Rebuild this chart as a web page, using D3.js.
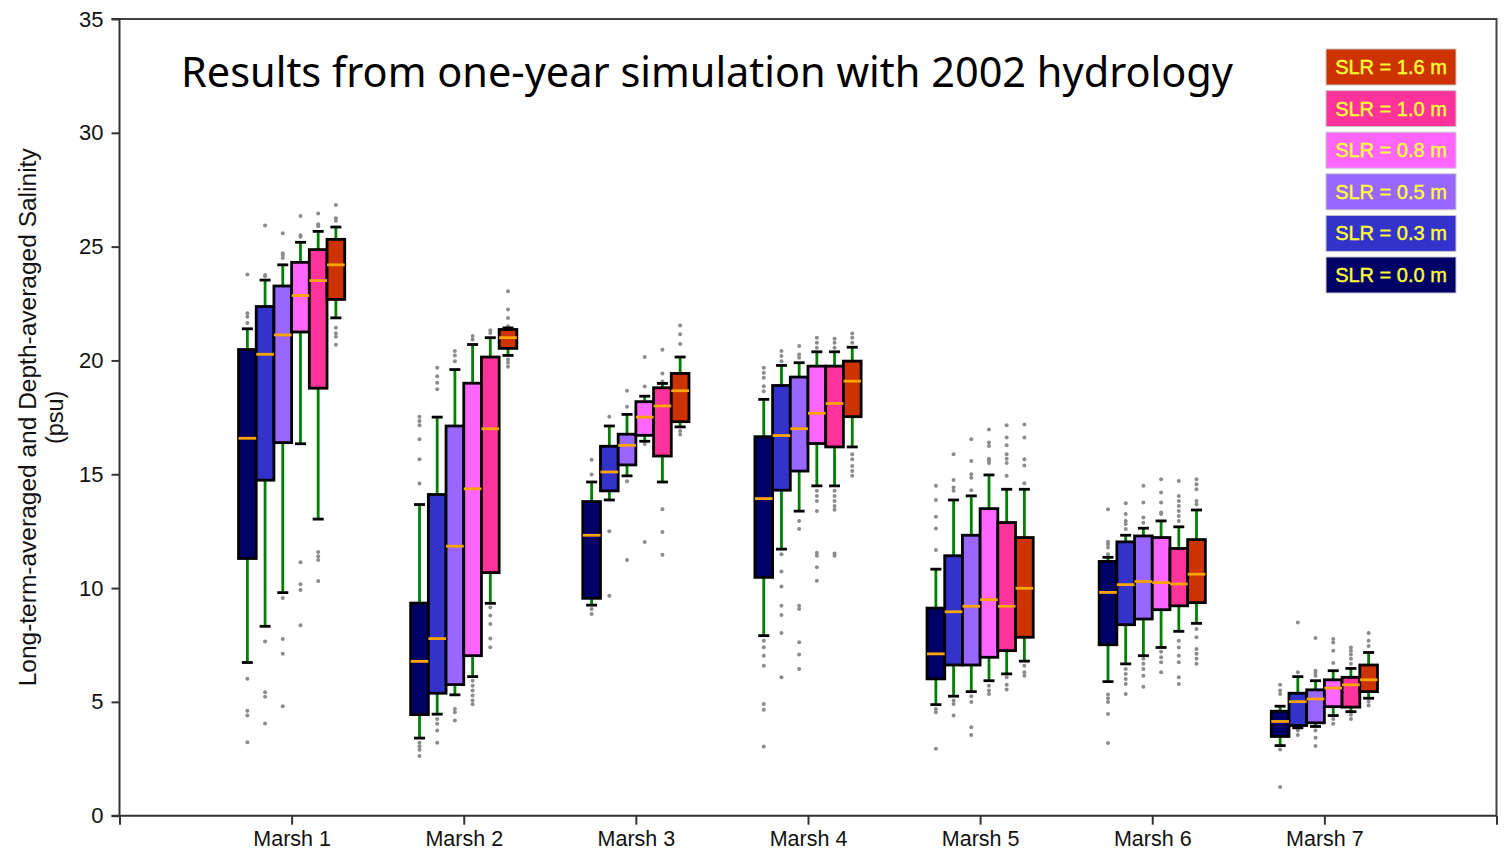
<!DOCTYPE html>
<html>
<head>
<meta charset="utf-8">
<script src="https://cdn.jsdelivr.net/npm/d3@7"></script>
<style>
  html, body { margin: 0; padding: 0; background: #fff; }
  svg { display: block; }
  .axis text { font-family: "Liberation Sans", Arial, sans-serif; fill: #111; }
</style>
</head>
<body>
<div id="chart"></div>
<script>
// categories and series
const marshes = ["Marsh 1", "Marsh 2", "Marsh 3", "Marsh 4", "Marsh 5", "Marsh 6", "Marsh 7"];
const scenarios = ["SLR = 0.0 m", "SLR = 0.3 m", "SLR = 0.5 m", "SLR = 0.8 m", "SLR = 1.0 m", "SLR = 1.6 m"];
const yTicks = [0, 5, 10, 15, 20, 25, 30, 35];

// box stats, one row per scenario, one value per marsh (psu)
const whiskerLow = [
  [6.73, 3.41, 9.25, 7.91, 4.88, 5.89, 3.08],
  [8.32, 4.46, 13.87, 11.71, 5.25, 6.67, 3.86],
  [9.8, 5.31, 14.93, 13.38, 5.45, 7.03, 3.92],
  [16.34, 6.11, 16.45, 14.49, 5.93, 7.39, 4.4],
  [13.03, 9.33, 14.66, 14.49, 6.23, 8.1, 4.57],
  [21.87, 20.22, 17.08, 16.2, 6.79, 8.45, 5.16]
];
const quartile1 = [
  [11.3, 4.44, 9.55, 10.47, 6.01, 7.51, 3.48],
  [14.74, 5.38, 14.27, 14.3, 6.62, 8.39, 3.96],
  [16.39, 5.76, 15.41, 15.14, 6.62, 8.64, 4.08],
  [21.25, 7.03, 16.71, 16.35, 6.96, 9.05, 4.79],
  [18.78, 10.68, 15.8, 16.2, 7.25, 9.22, 4.77],
  [22.68, 20.53, 17.31, 17.53, 7.84, 9.36, 5.45]
];
const medians = [
  [16.58, 6.78, 12.32, 13.93, 7.11, 9.81, 4.14],
  [20.27, 7.78, 15.1, 16.7, 8.96, 10.15, 5.01],
  [21.12, 11.84, 16.27, 17.0, 9.2, 10.29, 5.13],
  [22.85, 14.36, 17.51, 17.68, 9.49, 10.24, 5.61],
  [23.51, 17.0, 18.0, 18.11, 9.2, 10.18, 5.75],
  [24.2, 21.0, 18.67, 19.09, 9.99, 10.61, 5.97]
];
const quartile3 = [
  [20.48, 9.34, 13.8, 16.65, 9.12, 11.17, 4.59],
  [22.37, 14.11, 16.23, 18.9, 11.42, 12.03, 5.38],
  [23.27, 17.12, 16.76, 19.27, 12.32, 12.29, 5.53],
  [24.31, 19.0, 18.19, 19.75, 13.49, 12.22, 5.97],
  [24.87, 20.15, 18.8, 19.75, 12.88, 11.74, 6.08],
  [25.32, 21.36, 19.43, 19.97, 12.22, 12.13, 6.62]
];
const whiskerHigh = [
  [21.39, 13.67, 14.66, 18.29, 10.83, 11.35, 4.81],
  [23.53, 17.51, 17.12, 19.78, 13.87, 12.32, 6.11],
  [24.2, 19.6, 17.63, 19.9, 14.05, 12.63, 5.93],
  [25.19, 20.7, 18.43, 20.38, 14.97, 12.95, 6.37],
  [25.67, 21.0, 18.99, 20.38, 14.34, 12.69, 6.47],
  [25.86, 21.43, 20.15, 20.58, 14.34, 13.43, 7.17]
];
const outliers = [
  [
    [21.65, 21.92, 22.07, 23.78, 6.02, 4.61, 4.40, 3.23],
    [14.59, 15.66, 16.54, 17.15, 17.34, 17.53, 3.2, 3.05, 2.9, 2.62],
    [14.99, 15.64, 9.08, 8.86],
    [18.65, 18.87, 19.24, 19.46, 19.68, 7.69, 7.4, 7.03, 6.59, 4.91, 4.66, 3.04],
    [11.67, 12.62, 13.13, 13.87, 14.49, 4.69, 4.55, 2.94],
    [11.49, 11.78, 11.93, 12.03, 13.46, 5.32, 5.16, 4.99, 4.47, 3.19],
    [5.35, 5.5, 5.75, 2.91, 1.26]
  ],
  [
    [23.7, 23.75, 25.93, 7.65, 5.42, 5.23, 4.05],
    [19.68, 19.31, 19.02, 18.73, 4.25, 4.04, 3.74, 3.2],
    [17.53, 12.5, 9.66],
    [19.97, 20.19, 20.41, 11.49, 10.73, 10.07, 9.22, 8.82, 8.03, 6.08],
    [14.27, 14.42, 14.75, 15.88, 5.06, 4.91, 4.4],
    [12.59, 12.81, 12.95, 13.25, 13.73, 6.45, 6.23, 6.01, 5.79, 5.35],
    [6.3, 8.49, 3.74, 3.55]
  ],
  [
    [24.5, 24.63, 24.71, 25.59, 9.56, 7.76, 7.12, 4.81],
    [19.97, 20.22, 20.41, 4.69, 4.55, 4.18],
    [17.97, 18.67, 14.69, 11.23],
    [20.12, 20.26, 20.63, 12.95, 12.59, 9.22, 9.08, 7.62, 7.08, 6.45],
    [14.3, 14.85, 15.0, 15.58, 16.54, 5.25, 4.99, 3.89, 3.55],
    [12.87, 13.1, 13.76, 14.49, 6.89, 6.67, 6.45, 6.15, 5.67],
    [6.15, 6.27, 6.37, 7.81, 3.74, 3.42, 3.06]
  ],
  [
    [25.43, 25.5, 26.35, 11.13, 10.17, 9.91, 8.37],
    [20.92, 21.07, 5.93, 5.71, 5.5, 5.28, 5.06, 4.9],
    [18.85, 20.15, 16.33, 12.02],
    [20.56, 20.78, 21.0, 14.27, 14.05, 13.83, 13.39, 11.55, 11.42, 10.91, 10.32],
    [15.5, 15.6, 15.68, 16.24, 16.39, 16.97, 5.71, 5.5, 5.35],
    [13.25, 13.32, 13.76, 14.2, 14.78, 7.2, 6.96, 6.74, 6.3],
    [6.71, 7.25, 7.61, 7.76, 4.25, 4.04]
  ],
  [
    [25.9, 25.98, 26.46, 11.59, 11.4, 11.23, 10.31],
    [21.21, 21.33, 9.15, 8.79, 8.42, 7.79, 7.4],
    [19.08, 19.43, 20.47, 13.46, 12.46, 11.46],
    [20.56, 20.78, 20.95, 14.27, 14.05, 13.83, 13.61, 13.44, 11.52, 11.42],
    [14.93, 15.5, 15.68, 15.88, 16.27, 16.61, 17.15, 6.08, 5.75, 5.54],
    [12.95, 13.17, 13.39, 13.61, 13.83, 14.05, 14.7, 7.69, 7.39, 7.03, 6.74, 6.08, 5.79],
    [6.67, 6.89, 7.08, 7.25, 7.39, 4.43, 4.25]
  ],
  [
    [26.14, 26.25, 26.83, 21.44, 21.2, 21.04, 20.69],
    [21.5, 21.87, 22.24, 23.04, 20.04, 19.9, 19.72],
    [20.72, 21.15, 21.54, 16.9, 16.75],
    [20.78, 21.0, 21.18, 15.88, 15.66, 15.36, 15.14, 14.93],
    [14.6, 15.39, 15.66, 16.61, 17.19, 6.59, 6.3, 6.15],
    [13.68, 13.82, 14.34, 14.56, 14.78, 8.2, 7.84, 7.32, 7.11, 6.89, 6.67],
    [7.46, 7.69, 8.03, 5.01, 4.84]
  ]
];

const colors = ["#000066", "#3333cc", "#9966ff", "#ff66ff", "#ff3399", "#cc3300"];

const width = 1508, height = 852;
const svg = d3.select("#chart").append("svg")
  .attr("width", width)
  .attr("height", height);

const x = d3.scaleLinear().domain([0, 8]).range([119.5, 1496.5]);
const y = d3.scaleLinear().domain([0, 35]).range([815.7, 19]);

const pitch = 17.7;   // horizontal step between boxes of one marsh
const capHalf = 5.5;

// frame (top & right)
svg.append("path")
  .attr("d", `M${x(0)},${y(35)}H${x(8)}V${y(0)}`)
  .attr("fill", "none")
  .attr("stroke", "#444")
  .attr("stroke-width", 2);

// axes
const yAxis = svg.append("g")
  .attr("class", "axis")
  .attr("transform", `translate(${x(0)},0)`)
  .call(d3.axisLeft(y).tickValues(yTicks).tickSize(8).tickPadding(8));
yAxis.selectAll("text").attr("font-size", 22);

const xAxis = svg.append("g")
  .attr("class", "axis")
  .attr("transform", `translate(0,${y(0)})`)
  .call(d3.axisBottom(x).tickValues(d3.range(0, 9)).tickSize(9).tickPadding(6)
    .tickFormat(d => (d >= 1 && d <= 7) ? marshes[d - 1] : ""));
xAxis.selectAll("text").attr("font-size", 21.5);
svg.selectAll(".axis path, .axis line").attr("stroke", "#333").attr("stroke-width", 2);
svg.selectAll(".axis .domain").attr("d", function() {
  return d3.select(this.parentNode).attr("transform").includes(",0)")
    ? `M-8,${y(35)}H0V${y(0)}` : `M${x(0) - 8},0H${x(8)}`;
});

// boxes
const plot = svg.append("g");
scenarios.forEach((s, si) => {
  marshes.forEach((m, mi) => {
    const cx = x(mi + 1) + (si - 2.5) * pitch;
    const g = plot.append("g");
    // whiskers
    g.append("line")
      .attr("x1", cx).attr("x2", cx)
      .attr("y1", y(quartile3[si][mi])).attr("y2", y(whiskerHigh[si][mi]))
      .attr("stroke", "#008000").attr("stroke-width", 2.8);
    g.append("line")
      .attr("x1", cx).attr("x2", cx)
      .attr("y1", y(quartile1[si][mi])).attr("y2", y(whiskerLow[si][mi]))
      .attr("stroke", "#008000").attr("stroke-width", 2.8);
    // outliers
    g.selectAll("circle")
      .data(outliers[si][mi])
      .join("circle")
      .attr("cx", cx)
      .attr("cy", d => y(d))
      .attr("r", 2)
      .attr("fill", "#8c8c8c");
    // caps
    [whiskerLow[si][mi], whiskerHigh[si][mi]].forEach(v => {
      g.append("line")
        .attr("x1", cx - capHalf).attr("x2", cx + capHalf)
        .attr("y1", y(v)).attr("y2", y(v))
        .attr("stroke", "#000").attr("stroke-width", 2.8);
    });
  });
});
scenarios.forEach((s, si) => {
  marshes.forEach((m, mi) => {
    const cx = x(mi + 1) + (si - 2.5) * pitch;
    plot.append("rect")
      .attr("x", cx - pitch / 2)
      .attr("width", pitch)
      .attr("y", y(quartile3[si][mi]))
      .attr("height", y(quartile1[si][mi]) - y(quartile3[si][mi]))
      .attr("fill", colors[si])
      .attr("stroke", "#000")
      .attr("stroke-width", 2.8);
  });
});
scenarios.forEach((s, si) => {
  marshes.forEach((m, mi) => {
    const cx = x(mi + 1) + (si - 2.5) * pitch;
    plot.append("line")
      .attr("x1", cx - pitch / 2).attr("x2", cx + pitch / 2)
      .attr("y1", y(medians[si][mi])).attr("y2", y(medians[si][mi]))
      .attr("stroke", "#ffa500").attr("stroke-width", 2.8);
  });
});

// title
svg.append("text")
  .attr("x", 181)
  .attr("y", 87)
  .attr("font-family", "'Noto Sans', 'Open Sans', sans-serif")
  .attr("font-size", 42)
  .attr("fill", "#000")
  .attr("textLength", 1052)
  .attr("lengthAdjust", "spacingAndGlyphs")
  .text("Results from one-year simulation with 2002 hydrology");

// y label
const yl = svg.append("g")
  .attr("transform", `translate(0,${(y(0) + y(35)) / 2}) rotate(-90)`)
  .attr("font-family", "'Liberation Sans', Arial, sans-serif")
  .attr("font-size", 23.5)
  .attr("text-anchor", "middle")
  .attr("fill", "#111");
yl.append("text").attr("x", 0).attr("y", 36)
  .attr("textLength", 538).attr("lengthAdjust", "spacingAndGlyphs")
  .text("Long-term-averaged and Depth-averaged Salinity");
yl.append("text").attr("x", 0).attr("y", 63).text("(psu)");

// legend (top = highest SLR)
const legend = svg.append("g").attr("transform", "translate(1326,49)");
scenarios.slice().reverse().forEach((s, i) => {
  const si = scenarios.length - 1 - i;
  const row = legend.append("g").attr("transform", `translate(0,${i * 41.6})`);
  row.append("rect")
    .attr("width", 130).attr("height", 36)
    .attr("fill", colors[si])
    .attr("stroke", "#c8c8c8").attr("stroke-width", 1);
  row.append("text")
    .attr("x", 65).attr("y", 25)
    .attr("text-anchor", "middle")
    .attr("font-family", "'Liberation Sans', Arial, sans-serif")
    .attr("font-size", 20)
    .attr("fill", "#ffff33")
    .attr("stroke", "#ffff33")
    .attr("stroke-width", 0.4)
    .text(s);
});
</script>
</body>
</html>
